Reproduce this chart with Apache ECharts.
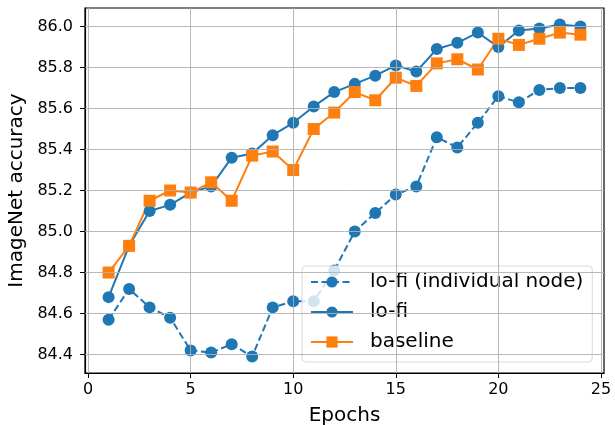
<!DOCTYPE html>
<html>
<head>
<meta charset="utf-8">
<script src="https://cdn.jsdelivr.net/npm/echarts@6/dist/echarts.min.js"></script>
<style>
html, body { margin: 0; padding: 0; background: #fff; }
#chart { width: 615px; height: 425px; }
</style>
</head>
<body>
<div id="chart"></div>
<script>
var epochs = [1,2,3,4,5,6,7,8,9,10,11,12,13,14,15,16,17,18,19,20,21,22,23,24];
var lofiNode = [84.57,84.72,84.63,84.58,84.42,84.41,84.45,84.39,84.63,84.66,84.66,84.81,85.00,85.09,85.18,85.22,85.46,85.41,85.53,85.66,85.63,85.69,85.70,85.70];
var lofi = [84.68,84.93,85.10,85.13,85.19,85.22,85.36,85.38,85.47,85.53,85.61,85.68,85.72,85.76,85.81,85.78,85.89,85.92,85.97,85.90,85.98,85.99,86.01,86.00];
var baseline = [84.80,84.93,85.15,85.20,85.19,85.24,85.15,85.37,85.39,85.30,85.50,85.58,85.68,85.64,85.75,85.71,85.82,85.84,85.79,85.94,85.91,85.94,85.97,85.96];
var xTicks = [0,5,10,15,20,25];
var yTicks = [84.4,84.6,84.8,85.0,85.2,85.4,85.6,85.8,86.0];

var font = 'DejaVu Sans';
var blue = '#1f77b4', orange = '#ff7f0e';

function pairs(vals){
	return vals.map(function(v, i){ return [epochs[i], v]; });
}

// grid lines as mark lines on an empty series, below the data
var gridLines = [];
xTicks.forEach(function(t){ gridLines.push({xAxis: t}); });
yTicks.forEach(function(t){ gridLines.push({yAxis: t}); });

var option = {
	animation: false,
	backgroundColor: '#fff',
	grid: {
		left: 85, right: 11, top: 8, bottom: 52,
		outerBoundsMode: 'none', containLabel: false,
		show: true, borderColor: '#000', borderWidth: 1.2, backgroundColor: 'transparent'
	},
	legend: {
		data: ['lo-fi (individual node)', 'lo-fi', 'baseline'],
		orient: 'vertical',
		left: 302, top: 266,
		itemWidth: 42, itemHeight: 14, itemGap: 10,
		padding: [6, 9, 10, 8],
		backgroundColor: 'rgba(255,255,255,0.8)',
		borderColor: '#d8d8d8', borderWidth: 1, borderRadius: 4,
		textStyle: { fontFamily: font, fontSize: 20, lineHeight: 20, color: '#000', padding: [0, 0, 0, 12] }
	},
	xAxis: {
		type: 'value', min: -0.15, max: 25.15,
		name: 'Epochs', nameLocation: 'middle', nameGap: 33,
		nameTextStyle: { fontFamily: font, fontSize: 20, color: '#000' },
		axisLine: { show: true, onZero: false, lineStyle: { color: '#000', width: 1.2 } },
		axisTick: { show: true, length: 5, customValues: xTicks, lineStyle: { color: '#000' } },
		axisLabel: { customValues: xTicks, fontFamily: font, fontSize: 16, color: '#000', margin: 9 },
		splitLine: { show: false }
	},
	yAxis: {
		type: 'value', min: 84.31, max: 86.09,
		name: 'ImageNet accuracy', nameLocation: 'middle', nameGap: 58,
		nameTextStyle: { fontFamily: font, fontSize: 20, color: '#000' },
		axisLine: { show: true, onZero: false, lineStyle: { color: '#000', width: 1.2 } },
		axisTick: { show: true, length: 5, customValues: yTicks, lineStyle: { color: '#000' } },
		axisLabel: {
			customValues: yTicks, fontFamily: font, fontSize: 16, color: '#000', margin: 12,
			formatter: function(v){ return v.toFixed(1); }
		},
		splitLine: { show: false }
	},
	series: [
		{
			name: 'grid', type: 'line', data: [], z: 1, silent: true,
			markLine: {
				silent: true, symbol: 'none', label: { show: false },
				lineStyle: { color: '#b0b0b0', width: 0.9, type: 'solid' },
				data: gridLines
			}
		},
		{
			name: 'lo-fi (individual node)', type: 'line', data: pairs(lofiNode),
			symbol: 'circle', symbolSize: 12, color: blue,
			lineStyle: { width: 2, type: [7, 3.5], color: blue },
			itemStyle: { color: blue }
		},
		{
			name: 'lo-fi', type: 'line', data: pairs(lofi),
			symbol: 'circle', symbolSize: 12, color: blue,
			lineStyle: { width: 2, color: blue },
			itemStyle: { color: blue }
		},
		{
			name: 'baseline', type: 'line', data: pairs(baseline),
			symbol: 'rect', symbolSize: 12, color: orange,
			lineStyle: { width: 2, color: orange },
			itemStyle: { color: orange }
		}
	]
};

var myChart = echarts.init(document.getElementById('chart'));
myChart.setOption(option);
</script>
</body>
</html>
